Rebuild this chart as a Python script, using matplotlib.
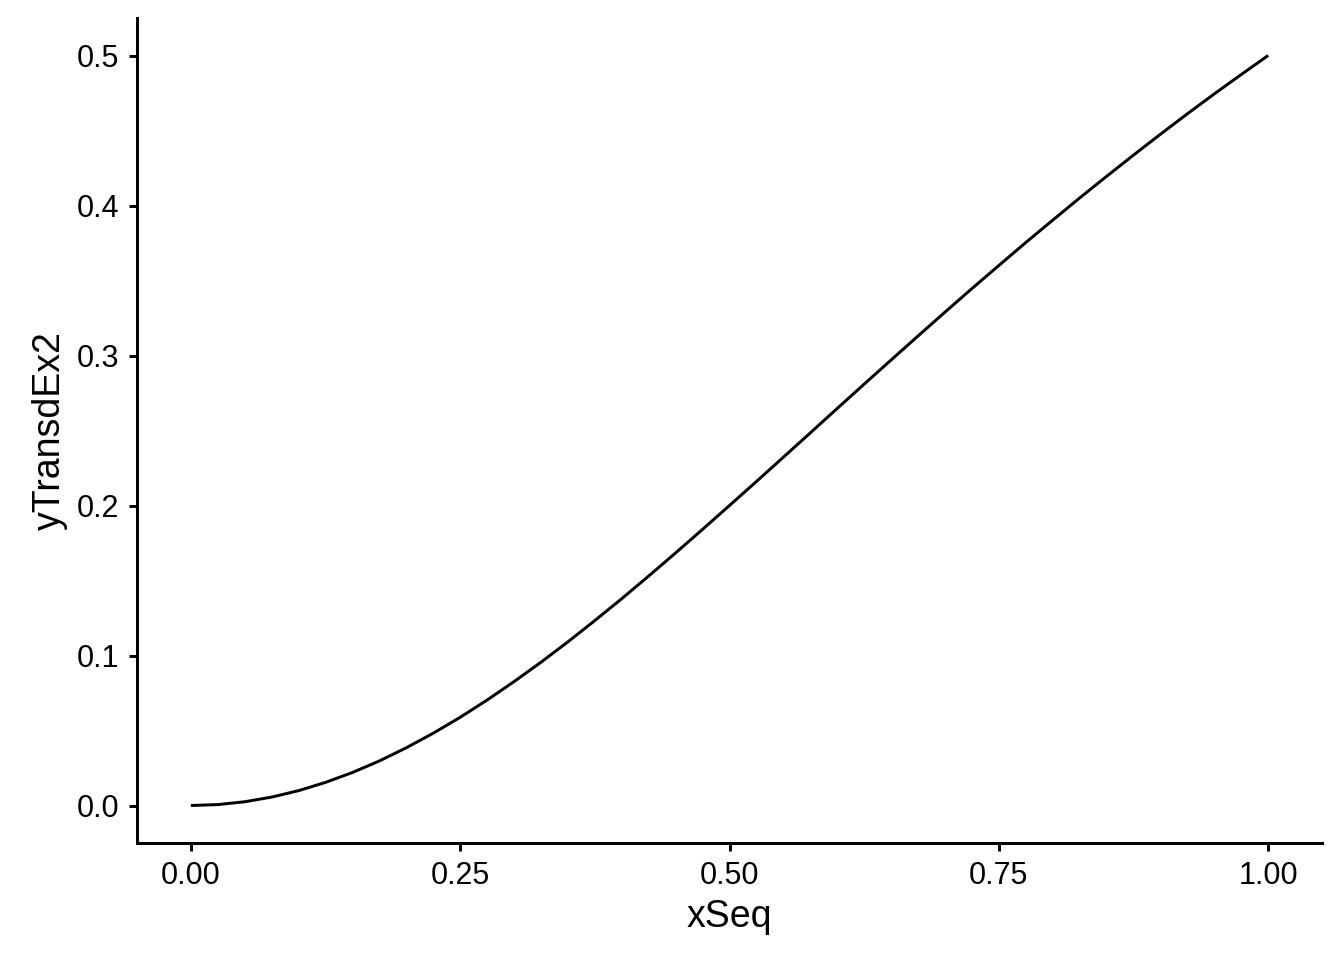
import matplotlib
matplotlib.use("Agg")
import matplotlib.pyplot as plt

# values
x_seq = [0.000, 0.025, 0.050, 0.075, 0.100, 0.125, 0.150, 0.175, 0.200,
         0.225, 0.250, 0.275, 0.300, 0.325, 0.350, 0.375, 0.400, 0.425,
         0.450, 0.475, 0.500, 0.525, 0.550, 0.575, 0.600, 0.625, 0.650,
         0.675, 0.700, 0.725, 0.750, 0.775, 0.800, 0.825, 0.850, 0.875,
         0.900, 0.925, 0.950, 0.975, 1.000]
y_trans = [0.0000, 0.0006, 0.0025, 0.0056, 0.0099, 0.0154, 0.0220, 0.0297,
           0.0385, 0.0482, 0.0588, 0.0703, 0.0826, 0.0955, 0.1091, 0.1233,
           0.1379, 0.1530, 0.1684, 0.1841, 0.2000, 0.2160, 0.2322, 0.2484,
           0.2647, 0.2809, 0.2970, 0.3130, 0.3289, 0.3446, 0.3600, 0.3753,
           0.3902, 0.4050, 0.4194, 0.4336, 0.4475, 0.4611, 0.4744, 0.4873,
           0.5000]
x_ticks = [0.00, 0.25, 0.50, 0.75, 1.00]
y_ticks = [0.0, 0.1, 0.2, 0.3, 0.4, 0.5]

plt.rcParams["font.family"] = ["Liberation Sans", "DejaVu Sans"]

fig = plt.figure(figsize=(6.72, 4.8), dpi=200)
ax = fig.add_axes([137 / 1344, 1 - 843 / 960, (1322 - 137) / 1344, (843 - 18) / 960])

ax.plot(x_seq, y_trans, color="black", lw=1.07, solid_capstyle="butt")

ax.set_xlim(-0.05, 1.05)
ax.set_ylim(-0.025, 0.525)
ax.set_xticks(x_ticks)
ax.set_xticklabels([f"{v:.2f}" for v in x_ticks])
ax.set_yticks(y_ticks)
ax.set_yticklabels([f"{v:.1f}" for v in y_ticks])

for s in ["top", "right"]:
    ax.spines[s].set_visible(False)
for s in ["left", "bottom"]:
    ax.spines[s].set_linewidth(1.07)
ax.tick_params(axis="both", length=3, width=1.07, color="black",
               labelsize=11, labelcolor="black", pad=3.5)

ax.set_xlabel("xSeq", fontsize=13.5, labelpad=3)
ax.set_ylabel("yTransdEx2", fontsize=13.5, labelpad=3)

fig.savefig("out.png", dpi=200)
